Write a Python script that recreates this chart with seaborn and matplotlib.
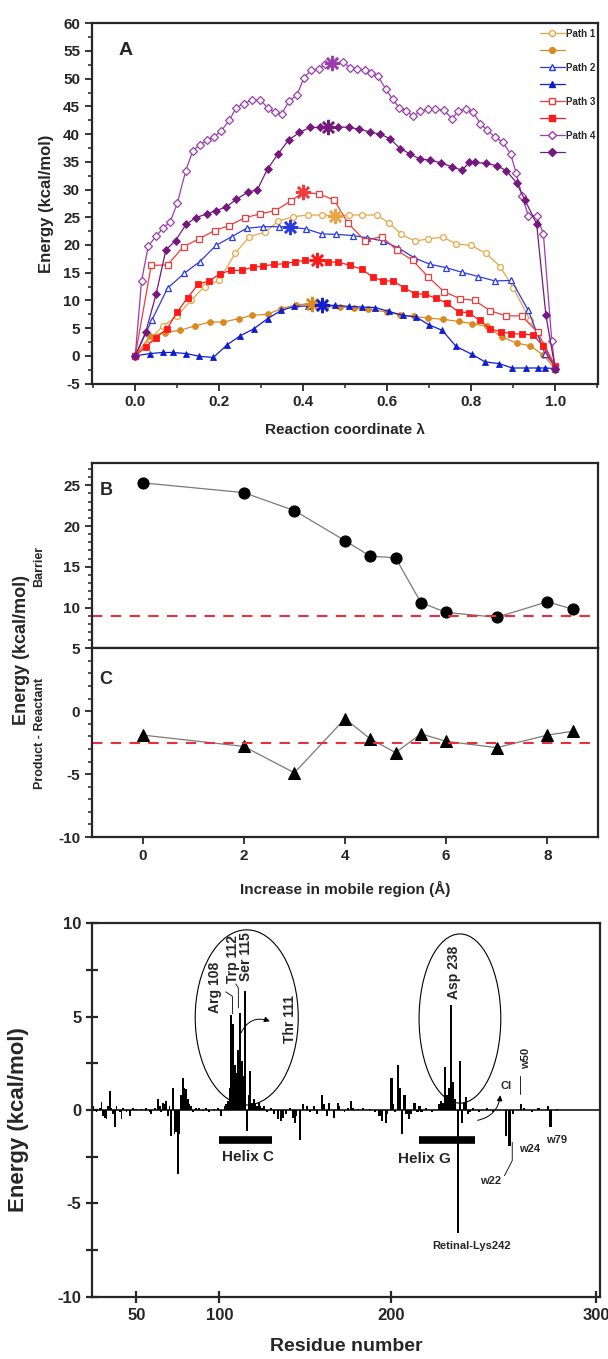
import numpy as np
import matplotlib
matplotlib.use("Agg")
import matplotlib.pyplot as plt
import seaborn as sns
from matplotlib.lines import Line2D
from matplotlib.patches import Ellipse
from matplotlib.ticker import MultipleLocator, NullLocator, FormatStrFormatter

sns.set_style("ticks")
plt.rcParams["font.family"] = ["Liberation Sans", "DejaVu Sans"]
plt.rcParams["font.weight"] = "bold"
plt.rcParams["axes.labelweight"] = "bold"
plt.rcParams["axes.linewidth"] = 1.6
plt.rcParams["axes.unicode_minus"] = False

# ---------------- panel A: energy profiles along the reaction path ----------------
p1o_lam = [0, 0.035, 0.065, 0.1, 0.133, 0.165, 0.2, 0.238, 0.272, 0.309, 0.341, 0.376, 0.411, 0.444,
           0.476, 0.509, 0.541, 0.575, 0.604, 0.634, 0.666, 0.698, 0.732, 0.765, 0.8, 0.835, 0.869,
           0.9, 0.94, 0.97, 1.0]
p1o_e = [0, 3.0, 5.3, 7.2, 10.0, 12.5, 13.6, 18.5, 21.5, 22.3, 24.3, 25.1, 25.4, 25.4, 25.3, 25.4,
         25.4, 25.4, 24.0, 21.9, 20.7, 21.1, 21.4, 20.2, 19.9, 18.5, 16.1, 12.3, 6.5, 2.0, -2.0]
p1f_lam = [0, 0.035, 0.07, 0.107, 0.142, 0.179, 0.21, 0.246, 0.279, 0.315, 0.348, 0.383, 0.42, 0.455,
           0.488, 0.52, 0.555, 0.599, 0.631, 0.664, 0.698, 0.732, 0.77, 0.803, 0.837, 0.873, 0.908,
           0.941, 0.972, 1.0]
p1f_e = [0, 3.5, 4.2, 4.6, 5.4, 6.1, 6.1, 6.7, 7.3, 7.5, 8.5, 9.2, 9.4, 8.9, 8.8, 8.6, 8.4, 7.9, 7.4,
         7.1, 6.8, 6.6, 6.2, 5.8, 5.3, 3.4, 2.3, 1.8, 0.1, -2.3]
p2o_lam = [0, 0.04, 0.077, 0.117, 0.154, 0.192, 0.23, 0.265, 0.305, 0.342, 0.369, 0.406, 0.444, 0.478,
           0.518, 0.553, 0.589, 0.626, 0.664, 0.702, 0.74, 0.777, 0.817, 0.857, 0.896, 0.936, 0.976, 1.0]
p2o_e = [0, 6.5, 12.2, 14.9, 17.0, 19.9, 21.5, 23.0, 23.3, 23.3, 23.2, 22.9, 22.0, 21.9, 21.7, 21.3,
         20.7, 19.5, 17.7, 16.5, 15.9, 15.1, 14.3, 13.5, 13.6, 8.2, 0.3, -1.9]
p2f_lam = [0, 0.035, 0.066, 0.089, 0.122, 0.153, 0.186, 0.219, 0.25, 0.283, 0.315, 0.348, 0.379, 0.412,
           0.445, 0.476, 0.509, 0.541, 0.572, 0.604, 0.637, 0.669, 0.699, 0.731, 0.764, 0.801, 0.833,
           0.866, 0.898, 0.931, 0.959, 0.977, 1.0]
p2f_e = [0, 0.4, 0.6, 0.6, 0.4, -0.1, -0.3, 2.0, 3.6, 4.9, 6.7, 8.2, 8.9, 9.0, 9.1, 9.1, 8.9, 8.8, 8.7,
         8.0, 7.3, 7.0, 5.6, 4.6, 1.7, 0.3, -1.1, -1.4, -2.2, -2.2, -2.2, -2.2, -2.3]
p3o_lam = [0, 0.038, 0.077, 0.115, 0.152, 0.189, 0.224, 0.261, 0.297, 0.334, 0.372, 0.4, 0.438, 0.474,
           0.507, 0.547, 0.587, 0.624, 0.661, 0.698, 0.735, 0.773, 0.808, 0.846, 0.884, 0.92, 0.958, 1.0]
p3o_e = [0, 16.3, 16.4, 19.7, 21.1, 22.6, 23.5, 24.9, 25.6, 26.2, 28.0, 29.5, 29.2, 28.1, 23.9, 20.8,
         21.5, 19.0, 17.2, 14.2, 11.6, 10.3, 10.0, 8.1, 7.2, 7.2, 4.3, -1.8]
p3f_lam = [0, 0.025, 0.049, 0.075, 0.1, 0.125, 0.15, 0.176, 0.202, 0.228, 0.254, 0.28, 0.305, 0.331,
           0.357, 0.381, 0.404, 0.432, 0.46, 0.484, 0.512, 0.54, 0.566, 0.59, 0.614, 0.64, 0.666, 0.69,
           0.716, 0.742, 0.77, 0.794, 0.82, 0.845, 0.871, 0.896, 0.92, 0.947, 0.972, 1.0]
p3f_e = [0, 1.6, 3.3, 4.8, 7.9, 10.5, 12.9, 13.5, 14.8, 15.4, 15.4, 16.0, 16.2, 16.5, 16.6, 17.0, 17.2,
         17.2, 16.9, 16.9, 16.3, 15.6, 14.2, 13.5, 13.5, 12.3, 11.2, 11.1, 10.4, 9.5, 7.9, 7.8, 6.4,
         4.9, 4.3, 4.0, 3.9, 3.8, 1.7, -2.0]
p4o_lam = [0, 0.015, 0.031, 0.05, 0.067, 0.083, 0.1, 0.12, 0.137, 0.154, 0.172, 0.188, 0.205, 0.224,
           0.24, 0.258, 0.277, 0.298, 0.316, 0.332, 0.349, 0.367, 0.385, 0.402, 0.419, 0.437, 0.453,
           0.469, 0.495, 0.511, 0.529, 0.546, 0.561, 0.578, 0.597, 0.613, 0.629, 0.646, 0.661, 0.678,
           0.697, 0.715, 0.736, 0.755, 0.768, 0.787, 0.805, 0.822, 0.838, 0.856, 0.875, 0.894, 0.907,
           0.921, 0.936, 0.956, 0.972, 0.992, 1.0]
p4o_e = [0, 13.5, 19.8, 21.6, 23.1, 24.1, 27.5, 33.3, 37.0, 38.1, 38.9, 39.5, 40.6, 42.5, 44.7, 45.5,
         46.1, 46.1, 44.7, 43.9, 43.7, 46.0, 47.0, 50.2, 51.5, 51.8, 52.6, 52.8, 53.0, 52.0, 51.8,
         51.5, 51.1, 50.4, 48.1, 46.3, 44.7, 44.2, 43.2, 44.1, 44.5, 44.5, 44.3, 42.7, 44.1, 44.5,
         43.9, 41.9, 40.7, 39.5, 38.6, 36.4, 33.0, 28.9, 25.3, 25.3, 22.0, 2.7, -2.3]
p4f_lam = [0, 0.025, 0.05, 0.073, 0.096, 0.121, 0.144, 0.17, 0.192, 0.216, 0.24, 0.268, 0.291, 0.315,
           0.34, 0.365, 0.391, 0.416, 0.439, 0.46, 0.484, 0.509, 0.534, 0.558, 0.583, 0.606, 0.631,
           0.655, 0.678, 0.703, 0.728, 0.754, 0.778, 0.796, 0.81, 0.836, 0.861, 0.884, 0.908, 0.928,
           0.956, 0.978, 1.0]
p4f_e = [0, 4.3, 11.2, 19.1, 20.8, 23.7, 24.9, 25.6, 26.2, 26.8, 28.2, 29.5, 30.0, 33.7, 36.4, 38.9,
         40.3, 41.2, 41.2, 41.2, 41.3, 41.2, 40.9, 40.4, 40.0, 39.2, 37.4, 36.4, 35.5, 35.3, 34.8,
         34.1, 33.5, 34.9, 34.9, 34.7, 34.3, 33.4, 31.2, 28.1, 23.8, 7.3, -2.3]

# transition state (highest point) of each profile: (lambda, energy)
ts_open = [(0.476, 25.3), (0.369, 23.2), (0.4, 29.5), (0.469, 52.8)]
ts_filled = [(0.42, 9.4), (0.445, 9.1), (0.432, 17.2), (0.46, 41.2)]

path_names = ["Path 1", "Path 2", "Path 3", "Path 4"]
open_colors = ["#E9A646", "#2A3BE0", "#F03C3C", "#9C3DAE"]
filled_colors = ["#DB8A22", "#0F1FD0", "#FF1A1A", "#76197E"]
path_markers = ["o", "^", "s", "D"]

# ---------------- panels B and C ----------------
mobile = [0, 2, 3, 4, 4.5, 5, 5.5, 6, 7, 8, 8.5]
barrier = [25.3, 24.1, 21.9, 18.2, 16.3, 16.1, 10.6, 9.4, 8.8, 10.7, 9.8]
reaction_e = [-1.9, -2.8, -4.9, -0.6, -2.2, -3.3, -1.8, -2.4, -2.9, -1.9, -1.6]
barrier_ref = 9.0
reaction_ref = -2.5

# ---------------- bottom panel: per-residue contributions ----------------
residue = [24, 26, 28, 29, 30, 31, 32, 33, 34, 35, 36, 37, 38, 40, 41, 42, 44, 46, 48, 50, 53, 56, 58,
           59, 61, 63, 64, 65, 66, 67, 68, 69, 70, 71, 72, 73, 74, 75, 76, 77, 78, 79, 80, 81, 82, 83,
           84, 86, 88, 90, 92, 94, 97, 99, 101, 103, 104,
           105, 106, 107, 108, 109, 110, 111, 112, 113, 114, 115, 116, 117, 118, 119, 120, 121, 122,
           123, 124, 125, 126, 128, 130, 132, 134, 136, 137, 139, 141, 143, 144, 145, 147, 149, 151,
           153, 155, 157, 160, 161, 163, 164, 167, 169, 170, 173, 175, 177, 178, 181, 184, 188, 191,
           193, 194, 195, 197, 198,
           200.3, 201.2, 202, 203.5, 204.5, 205.6, 206.7, 207.6, 208.8, 210, 211.6, 213, 214, 215,
           217, 220, 223.6, 224.5, 225.5, 226.6, 227.6, 228.4, 229.5, 230.5, 231.3, 232.9, 233.8,
           234.8, 235.7, 236.6, 237.5, 238.6, 240, 243, 247, 250, 256.3, 257.9, 259.5, 263.6, 265,
           269, 272, 276.7, 277.9, 281]
res_energy = [0.2, -0.1, 0.1, 0.45, -0.3, -0.4, -0.5, 0.2, 1.0, 0.1, -0.2, -0.9, 0.2, -0.1, -0.5, 0.1,
              -0.1, -0.3, 0.1, 0.05, 0.05, 0.1, -0.1, -0.2, 0.1, 0.6, 0.2, -0.1, 0.4, 0.3, 0.5, -0.3,
              0.2, -1.4, 1.2, -1.3, -1.2, -3.4, -1.3, 0.8, 1.7, 1.2, 1.1, 0.6, 0.3, 0.2, -0.1, 0.1,
              0.1, -0.05, 0.1, -0.1, 0.05, 0.1, -0.3, 0.2, 0.3,
              0.5, 1.2, 5.1, 4.6, 2.4, 2.0, 3.2, 5.2, 2.6, 1.8, 6.4, -1.1, 0.8, 2.1, 0.4, 0.6, 0.3,
              0.2, 0.4, 0.2, 0.1, 0.2, -0.1, 0.1, -0.2, -0.5, -0.6, -0.4, -0.2, 0.1, -0.4, -0.7,
              -0.3, -1.6, 0.3, 0.2, -0.1, 0.2, -0.2, 0.8, 0.3, -0.3, 0.4, -0.4, 0.4, 0.2, -0.1, 0.1,
              0.5, 0.1, 0.05, 0.1, 0.05, -0.1, -0.3, -0.3, -0.6, -0.7, -0.2,
              1.7, 0.3, -0.1, 2.4, 1.2, -1.3, 0.8, -0.2, -0.5, -0.2, 0.4, -0.1, 0.2, -0.1, 0.1, -0.1,
              0.3, 0.5, 0.4, 2.3, 0.8, 1.2, 5.6, 1.5, 0.6, -6.6, 2.6, -0.7, 0.4, 0.7, -0.2, -0.1,
              0.1, -0.1, 0.1, -0.1, -1.4, -1.9, -0.2, 0.3, 0.1, -0.1, 0.1, 0.2, -0.9, 0.05]
helix_c = (100, 131)
helix_g = (213.6, 241.1)
helix_level = -1.62

# residue axis as drawn in the figure (tick spacing is not uniform)
axis_res = [0, 50, 100, 200, 300, 400]
axis_pos = [53.4, 136.4, 219.4, 391.0, 596.3, 801.6]


def res_fwd(x):
    return np.interp(x, axis_res, axis_pos)


def res_inv(x):
    return np.interp(x, axis_pos, axis_res)


fig = plt.figure(figsize=(6.08, 13.59), dpi=100)
ax_a = fig.add_axes([0.1513, 0.7178, 0.8322, 0.2651])
ax_b = fig.add_axes([0.1513, 0.5230, 0.8322, 0.1361])
ax_c = fig.add_axes([0.1513, 0.3841, 0.8322, 0.1389])
ax_d = fig.add_axes([0.1520, 0.0458, 0.8349, 0.2748])

# ---- panel A ----
series = [(p1o_lam, p1o_e, p1f_lam, p1f_e), (p2o_lam, p2o_e, p2f_lam, p2f_e),
          (p3o_lam, p3o_e, p3f_lam, p3f_e), (p4o_lam, p4o_e, p4f_lam, p4f_e)]
handles, labels = [], []
for i, (lo, eo, lf, ef) in enumerate(series):
    ms = 3.6 if path_markers[i] == "D" else 4.2
    sns.lineplot(x=lo, y=eo, ax=ax_a, sort=False, estimator=None, color=open_colors[i], lw=0.9,
                 marker=path_markers[i], markersize=ms, markerfacecolor="white",
                 markeredgecolor=open_colors[i], markeredgewidth=0.9)
    sns.lineplot(x=lf, y=ef, ax=ax_a, sort=False, estimator=None, color=filled_colors[i], lw=0.9,
                 marker=path_markers[i], markersize=ms, markerfacecolor=filled_colors[i],
                 markeredgecolor=filled_colors[i], markeredgewidth=0.6)
    for pt, col in [(ts_open[i], open_colors[i]), (ts_filled[i], filled_colors[i])]:
        ax_a.plot(pt[0], pt[1], marker=(8, 2, 0), markersize=11, color=col, mew=1.8, zorder=5)
    handles.append(Line2D([], [], color=open_colors[i], lw=0.9, marker=path_markers[i], markersize=ms,
                          markerfacecolor="white", markeredgecolor=open_colors[i]))
    labels.append(path_names[i])
    handles.append(Line2D([], [], color=filled_colors[i], lw=0.9, marker=path_markers[i], markersize=ms,
                          markerfacecolor=filled_colors[i], markeredgecolor=filled_colors[i]))
    labels.append(" ")

ax_a.set_xlim(-0.103, 1.102)
ax_a.set_ylim(-5, 60)
ax_a.xaxis.set_major_locator(MultipleLocator(0.2))
ax_a.xaxis.set_minor_locator(MultipleLocator(0.1))
ax_a.xaxis.set_major_formatter(FormatStrFormatter("%.1f"))
ax_a.yaxis.set_major_locator(MultipleLocator(5))
ax_a.yaxis.set_minor_locator(MultipleLocator(2.5))
ax_a.tick_params(which="major", direction="out", length=5, width=1.3, labelsize=11)
ax_a.tick_params(which="minor", direction="out", length=3, width=1.1)
ax_a.set_xlabel("Reaction coordinate λ", fontsize=11)
ax_a.set_ylabel("Energy (kcal/mol)", fontsize=12)
ax_a.xaxis.set_label_coords(0.5, -0.11)
ax_a.yaxis.set_label_coords(-0.075, 0.5)
ax_a.text(-0.023, 55, "A", fontsize=14, ha="center", va="center")
leg = ax_a.legend(handles, labels, loc="upper right", bbox_to_anchor=(1.005, 1.0), frameon=False,
                  fontsize=7, handlelength=2.6, labelspacing=0.72, borderaxespad=0.15, handletextpad=0.1)
for t in leg.get_texts():
    t.set_fontweight("bold")

# ---- panel B ----
sns.lineplot(x=mobile, y=barrier, ax=ax_b, sort=False, estimator=None, color="#7a7a7a", lw=0.9,
             marker="o", markersize=8, markerfacecolor="black", markeredgecolor="black")
ax_b.axhline(barrier_ref, color="#E8303A", lw=1.5, ls=(0, (5, 4)))
ax_b.set_xlim(-1, 9)
ax_b.set_ylim(5, 27.7)
ax_b.yaxis.set_major_locator(MultipleLocator(5))
ax_b.yaxis.set_minor_locator(MultipleLocator(1))
ax_b.xaxis.set_major_locator(MultipleLocator(1))
ax_b.tick_params(axis="x", labelbottom=False, direction="out", length=5, width=1.3)
ax_b.tick_params(axis="y", which="major", direction="out", length=5, width=1.3, labelsize=11)
ax_b.tick_params(axis="y", which="minor", direction="out", length=3, width=1.1)
ax_b.set_xlabel("")
ax_b.set_ylabel("")
ax_b.text(-0.71, 24.4, "B", fontsize=13, ha="center", va="center")

# ---- panel C ----
sns.lineplot(x=mobile, y=reaction_e, ax=ax_c, sort=False, estimator=None, color="#7a7a7a", lw=0.9,
             marker="^", markersize=8, markerfacecolor="black", markeredgecolor="black")
ax_c.axhline(reaction_ref, color="#E8303A", lw=1.5, ls=(0, (5, 4)))
ax_c.set_xlim(-1, 9)
ax_c.set_ylim(-10, 5)
ax_c.set_yticks([-10, -5, 0])
ax_c.yaxis.set_minor_locator(MultipleLocator(1))
ax_c.xaxis.set_major_locator(MultipleLocator(2))
ax_c.tick_params(axis="x", direction="out", length=5, width=1.3, labelsize=11)
ax_c.tick_params(axis="y", which="major", direction="out", length=5, width=1.3, labelsize=11)
ax_c.tick_params(axis="y", which="minor", direction="out", length=3, width=1.1)
ax_c.set_ylabel("")
ax_c.set_xlabel("Increase in mobile region (Å)", fontsize=11)
ax_c.xaxis.set_label_coords(0.5, -0.23)
ax_c.text(-0.73, 2.5, "C", fontsize=13, ha="center", va="center")

fig.text(0.035, 0.522, "Energy (kcal/mol)", rotation=90, ha="center", va="center", fontsize=13)
fig.text(0.065, 0.583, "Barrier", rotation=90, ha="center", va="center", fontsize=9)
fig.text(0.065, 0.460, "Product - Reactant", rotation=90, ha="center", va="center", fontsize=9)

# ---- bottom panel ----
ax_d.set_xscale("function", functions=(res_fwd, res_inv))
ax_d.bar(residue, res_energy, width=1.1, color="black", linewidth=0)
ax_d.axhline(0, color="black", lw=1.1)
ax_d.hlines(helix_level, *helix_c, color="black", lw=5.5)
ax_d.hlines(helix_level, *helix_g, color="black", lw=5.5)
ax_d.set_xlim(23.5, 302)
ax_d.set_ylim(-10, 10)
ax_d.set_xticks([50, 100, 200, 300])
ax_d.xaxis.set_minor_locator(NullLocator())
ax_d.yaxis.set_major_locator(MultipleLocator(5))
ax_d.yaxis.set_minor_locator(MultipleLocator(2.5))
ax_d.tick_params(which="both", direction="inout", length=9, width=1.6, labelsize=12)
ax_d.set_xlabel("Residue number", fontsize=14)
ax_d.set_ylabel("Energy (kcal/mol)", fontsize=16)
ax_d.xaxis.set_label_coords(0.5, -0.111)
ax_d.yaxis.set_label_coords(-0.125, 0.475)

ax_d.add_patch(Ellipse((0.304, 0.748), 0.203, 0.469, transform=ax_d.transAxes, fill=False,
                       ec="black", lw=0.8))
ax_d.add_patch(Ellipse((0.724, 0.745), 0.161, 0.453, transform=ax_d.transAxes, fill=False,
                       ec="black", lw=0.8))

ax_d.text(117, -2.53, "Helix C", fontsize=11, ha="center", va="center")
ax_d.text(216.6, -2.6, "Helix G", fontsize=11, ha="center", va="center")
for name, x, y in [("Arg 108", 97.6, 5.2), ("Trp 112", 107.9, 6.8), ("Ser 115", 115.7, 6.9),
                   ("Asp 238", 230.7, 5.95)]:
    ax_d.text(x, y, name, rotation=90, fontsize=10, ha="center", va="bottom")
ax_d.text(141.3, 4.9, "Thr 111", rotation=90, fontsize=10, ha="center", va="center")
ax_d.text(265.7, 2.2, "w50", rotation=90, fontsize=8, ha="center", va="bottom")
ax_d.text(256.2, 1.3, "Cl", fontsize=8, ha="center", va="center")
ax_d.text(267.5, -2.1, "w24", fontsize=8, ha="center", va="center")
ax_d.text(280.6, -1.6, "w79", fontsize=8, ha="center", va="center")
ax_d.text(248.8, -3.8, "w22", fontsize=8, ha="center", va="center")
ax_d.text(239.5, -7.3, "Retinal-Lys242", fontsize=8, ha="center", va="center")

lead = dict(color="black", lw=0.6)
ax_d.plot([103.7, 107.6, 107.8], [6.33, 6.1, 5.15], **lead)
ax_d.plot([109.6, 111.1, 111.1], [6.75, 6.54, 5.47], **lead)
ax_d.plot([255.4, 259.2, 259.2], [-3.52, -2.71, -1.73], **lead)
ax_d.plot([263.0, 263.0], [1.83, 0.87], **lead)
ax_d.annotate("", xy=(131, 4.7), xytext=(112, 4.0),
              arrowprops=dict(arrowstyle="-|>", color="black", lw=0.7, mutation_scale=8,
                              connectionstyle="arc3,rad=-0.5"))
ax_d.annotate("", xy=(253.5, 0.94), xytext=(241, -0.58),
              arrowprops=dict(arrowstyle="-|>", color="black", lw=0.7, mutation_scale=8,
                              connectionstyle="arc3,rad=0.4"))

for ax in (ax_a, ax_b, ax_c, ax_d):
    for sp in ax.spines.values():
        sp.set_visible(True)
        sp.set_linewidth(1.6)

fig.savefig("out.png", dpi=100)
